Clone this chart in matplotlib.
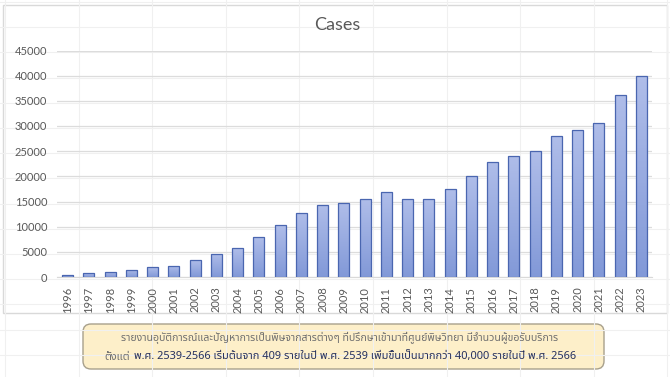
import numpy as np
import matplotlib
matplotlib.use('Agg')
import matplotlib.pyplot as plt
from matplotlib import font_manager, ft2font
from matplotlib.patches import Rectangle, FancyBboxPatch
from matplotlib.colors import LinearSegmentedColormap

# data
years = [1996, 1997, 1998, 1999, 2000, 2001, 2002, 2003, 2004, 2005,
         2006, 2007, 2008, 2009, 2010, 2011, 2012, 2013, 2014, 2015,
         2016, 2017, 2018, 2019, 2020, 2021, 2022, 2023]
cases = [409, 730, 1060, 1460, 1930, 2260, 3320, 4650, 5710, 7970,
         10320, 12770, 14350, 14620, 15480, 16870, 15410, 15410, 17500, 20050,
         22850, 23970, 25030, 27950, 29200, 30600, 36160, 39930]
y_ticks = [0, 5000, 10000, 15000, 20000, 25000, 30000, 35000, 40000, 45000]
title = 'Cases'
note_line1 = ('รายงานอุบัติการณ์และปัญหาการเป็นพิษจากสารต่างๆ ที่ปรึกษาเข้ามาที่ศูนย์พิษวิทยา '
              'มีจำนวนผู้ขอรับบริการ')
note_line2a = 'ตั้งแต่'
note_line2b = ('พ.ศ. 2539-2566 เริ่มต้นจาก 409 รายในปี พ.ศ. 2539 '
               'เพิ่มขึ้นเป็นมากกว่า 40,000 รายในปี พ.ศ. 2566')

# find a font that has Thai glyphs
thai_font = None
preferred = ['Noto Sans Thai', 'Noto Sans Thai UI', 'Noto Sans Thai Looped', 'Sarabun',
             'Kanit', 'Prompt', 'Loma', 'Garuda', 'Norasi', 'Tlwg Typo', 'Waree']
found = []
for f in font_manager.fontManager.ttflist:
    try:
        if 0x0E01 in ft2font.FT2Font(f.fname).get_charmap():
            found.append(f.name)
    except Exception:
        pass
for p in preferred:
    if p in found:
        thai_font = p
        break
if thai_font is None and found:
    thai_font = found[0]
thai_family = [thai_font, 'DejaVu Sans'] if thai_font else ['DejaVu Sans']

plt.rcParams['font.family'] = ['Lato', 'DejaVu Sans']

W, H = 670, 377
fig = plt.figure(figsize=(W / 100, H / 100), dpi=100)

# background layer in pixel coordinates (sheet cells, chart area, note box)
bg = fig.add_axes([0, 0, 1, 1], zorder=0)
bg.set_xlim(0, W)
bg.set_ylim(H, 0)
bg.axis('off')
for x in np.arange(5, W + 1, 73.6):
    bg.axvline(x, color='#f0f0f0', lw=0.8)
for y in np.arange(2, H + 1, 25.2):
    bg.axhline(y, color='#f0f0f0', lw=0.8)
bg.add_patch(Rectangle((3, 5), 664, 308, facecolor='white', edgecolor='#d9d9d9', lw=1))
bg.add_patch(FancyBboxPatch((83, 324), 521, 45, boxstyle='round,pad=0,rounding_size=8',
                            facecolor='#fdefc9', edgecolor='#a8a08c', lw=1))
bg.text(340, 337.5, note_line1, ha='center', va='center', fontsize=7.6,
        color='#707070', family=thai_family)

# chart
ax = fig.add_axes([57 / W, 1 - 277 / H, (652 - 57) / W, (277 - 50.5) / H], zorder=1)
ax.set_facecolor('none')
x = np.arange(len(years))
bars = ax.bar(x, cases, width=0.52, color='none', edgecolor='#4a66b0', lw=0.9, zorder=3)
cmap = LinearSegmentedColormap.from_list('grad', ['#8299d8', '#afbde9'])
grad = np.linspace(0, 1, 64).reshape(-1, 1)
for b in bars:
    im = ax.imshow(grad, extent=[b.get_x(), b.get_x() + b.get_width(), 0, b.get_height()],
                   origin='lower', aspect='auto', cmap=cmap, zorder=2)
    im.set_clip_path(b)
ax.set_xlim(-0.5, len(years) - 0.5)
ax.set_ylim(0, 45000)
ax.set_aspect('auto')
ax.set_yticks(y_ticks)
ax.set_xticks(x)
ax.set_xticklabels([str(y) for y in years], rotation=90)
ax.tick_params(length=0, labelsize=8, colors='#595959', pad=7)
ax.yaxis.grid(True, color='#dcdcdc', lw=0.9)
ax.set_axisbelow(True)
for s in ['top', 'right', 'left']:
    ax.spines[s].set_visible(False)
ax.spines['bottom'].set_color('#d9d9d9')

fig.text(337 / W, 1 - 25 / H, title, ha='center', va='center', fontsize=13, color='#595959')

# second note line: light lead word + bold remainder, centred together
t_a = bg.text(0, 357, note_line2a, ha='left', va='center', fontsize=7.8,
              color='#707070', family=thai_family)
t_b = bg.text(0, 357, note_line2b, ha='left', va='center', fontsize=7.9,
              color='#26305c', fontweight='bold', family=thai_family)
fig.canvas.draw()
r = fig.canvas.get_renderer()
wa = t_a.get_window_extent(r).width
wb = t_b.get_window_extent(r).width
gap = 4
start = 340 - (wa + gap + wb) / 2
t_a.set_x(start)
t_b.set_x(start + wa + gap)

fig.savefig('out.png', dpi=100)
